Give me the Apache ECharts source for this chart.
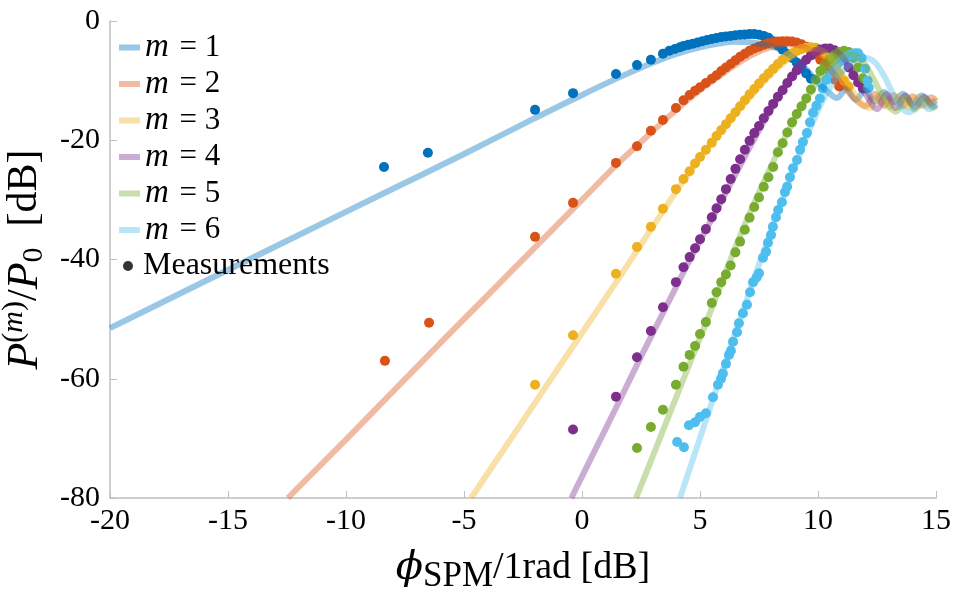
<!DOCTYPE html>
<html><head><meta charset="utf-8">
<script src="https://cdn.jsdelivr.net/npm/echarts@6/dist/echarts.min.js"></script>
<style>html,body{margin:0;padding:0;background:#fff}#c{width:957px;height:592px}</style>
</head><body><div id="c"></div><script>
// Axis ranges / ticks
const xRange = [-20, 15], xStep = 5;
const yRange = [-80, 0], yStep = 20;
const orders = [1, 2, 3, 4, 5, 6];

// Theory curves [phi_dB, P_dB]
const line1 = [[-20,-51.5],[-16,-43.7],[-12,-35.9],[-8.4,-28.9],[-5,-22.3],[-2,-16.3],[0,-12.4],[1,-10.5],[2,-8.7],[3,-7.0],[4,-5.5],[5,-4.4],[5.8,-3.8],[6.5,-3.5],[7.2,-3.6],[7.8,-4.0],[8.3,-4.6],[8.8,-5.7],[9.2,-6.9],[9.6,-8.5],[10.0,-10.3],[10.4,-11.8],[10.8,-12.9],[11.2,-11.4],[11.6,-13.2],[12.0,-11.6],[12.4,-13.5],[12.8,-11.9],[13.2,-13.6],[13.6,-12.2],[14.0,-13.9],[14.4,-12.5],[14.8,-13.8],[15,-13.3]];
const line2 = [[-12.46,-80],[-10,-70.2],[-8,-62.1],[-6,-54.0],[-4,-46.0],[-2,-38.0],[0,-30.0],[1.6,-23.6],[2.5,-20.3],[3.4,-17.0],[4.2,-14.2],[5.0,-11.6],[5.8,-9.3],[6.6,-7.1],[7.3,-5.5],[8.0,-4.4],[8.6,-3.9],[9.1,-4.0],[9.6,-4.7],[10.0,-5.8],[10.4,-7.5],[10.8,-9.5],[11.2,-11.5],[11.6,-13.2],[12.0,-14.3],[12.4,-12.2],[12.8,-14.2],[13.2,-12.4],[13.6,-14.3],[14.0,-12.6],[14.4,-14.2],[14.8,-12.8],[15,-13.4]];
const line3 = [[-4.7,-80],[-3,-70.0],[-1,-58.2],[0.5,-49.4],[1.6,-42.9],[2.6,-36.9],[3.5,-31.5],[4.3,-26.8],[5.0,-23.0],[5.8,-19.0],[6.5,-15.6],[7.2,-12.4],[7.8,-9.8],[8.4,-7.5],[8.9,-5.9],[9.4,-4.9],[9.8,-4.6],[10.2,-5.0],[10.6,-6.5],[11.0,-8.8],[11.4,-11.3],[11.8,-13.6],[12.2,-14.6],[12.6,-12.4],[13.0,-14.5],[13.4,-12.6],[13.8,-14.4],[14.2,-12.7],[14.6,-14.3],[15,-12.9]];
const line4 = [[-0.45,-80],[0.5,-72.4],[1.5,-64.4],[2.5,-56.3],[3.3,-50.0],[4.0,-44.5],[4.6,-39.8],[5.2,-35.4],[5.8,-31.0],[6.4,-26.5],[7.0,-22.0],[7.6,-17.6],[8.2,-13.6],[8.7,-10.4],[9.2,-7.7],[9.7,-5.8],[10.1,-4.8],[10.5,-4.6],[10.9,-5.4],[11.3,-7.5],[11.7,-10.2],[12.1,-12.8],[12.5,-14.8],[12.9,-12.3],[13.3,-14.6],[13.7,-12.5],[14.1,-14.5],[14.5,-12.7],[14.9,-14.3],[15,-14.0]];
const line5 = [[2.29,-80],[3.0,-73.0],[3.8,-65.0],[4.6,-57.1],[5.3,-50.2],[6.0,-43.0],[6.7,-36.0],[7.4,-29.6],[8.1,-23.6],[8.8,-18.0],[9.5,-13.2],[10.0,-10.0],[10.5,-7.6],[11.0,-6.0],[11.4,-5.6],[11.8,-6.3],[12.2,-8.6],[12.6,-11.6],[13.0,-14.2],[13.3,-15.2],[13.7,-12.8],[14.1,-14.9],[14.5,-13.0],[14.9,-14.6],[15,-14.3]];
const line6 = [[4.15,-80],[4.8,-72.3],[5.5,-64.0],[6.2,-55.8],[6.9,-47.7],[7.6,-39.7],[8.3,-32.0],[9.0,-24.6],[9.6,-18.6],[10.2,-13.3],[10.7,-10.0],[11.2,-7.8],[11.6,-6.6],[12.0,-6.2],[12.4,-6.9],[12.8,-9.2],[13.2,-12.4],[13.6,-14.8],[13.9,-15.3],[14.3,-13.2],[14.7,-14.8],[15,-13.8]];

// Measurements [phi_dB, P_dB]
const meas1 = [[-8.39,-24.5],[-6.53,-22.1],[-1.99,-14.9],[-0.38,-12.1],[1.44,-8.9],[2.33,-7.4],[2.92,-6.5],[3.43,-5.5],[3.7,-5.0],[3.94,-4.7],[4.15,-4.4],[4.3,-4.2],[4.5,-4.0],[4.7,-3.8],[4.9,-3.6],[5.1,-3.4],[5.3,-3.2],[5.5,-3.0],[5.7,-2.85],[5.9,-2.7],[6.1,-2.6],[6.3,-2.5],[6.5,-2.4],[6.7,-2.3],[6.9,-2.25],[7.1,-2.2],[7.3,-2.2],[7.5,-2.3],[7.7,-2.5],[7.9,-2.8],[8.1,-3.4],[8.3,-4.1],[8.5,-4.8],[8.7,-5.5],[8.9,-6.2],[9.1,-7.0],[9.3,-7.9],[9.5,-8.8],[9.7,-9.7]];
const meas2 = [[-8.35,-57.0],[-6.48,-50.6],[-1.99,-36.2],[-0.38,-30.5],[1.44,-23.8],[2.33,-21.0],[2.92,-18.4],[3.43,-16.6],[3.98,-14.6],[4.30,-13.3],[4.56,-12.4],[4.79,-11.7],[5.0,-11.1],[5.25,-10.4],[5.5,-9.7],[5.7,-9.1],[5.9,-8.4],[6.1,-7.8],[6.3,-7.2],[6.5,-6.6],[6.7,-6.0],[6.9,-5.5],[7.1,-5.0],[7.3,-4.6],[7.5,-4.3],[7.7,-4.0],[7.9,-3.75],[8.1,-3.6],[8.3,-3.45],[8.5,-3.4],[8.7,-3.4],[8.9,-3.45],[9.1,-3.6],[9.3,-3.9],[9.5,-4.3],[9.7,-4.9],[9.9,-5.6],[10.1,-6.5],[10.3,-7.5],[10.5,-8.6],[10.7,-9.8],[10.9,-11.0]];
const meas3 = [[-1.99,-61.0],[-0.38,-52.7],[1.44,-42.4],[2.33,-37.9],[2.92,-34.5],[3.43,-31.5],[3.98,-28.2],[4.30,-26.5],[4.56,-25.2],[4.79,-23.9],[5.0,-22.8],[5.25,-21.6],[5.5,-20.4],[5.7,-19.3],[5.9,-18.3],[6.1,-17.3],[6.3,-16.3],[6.5,-15.3],[6.7,-14.3],[6.9,-13.3],[7.1,-12.3],[7.3,-11.4],[7.5,-10.5],[7.7,-9.6],[7.9,-8.8],[8.1,-8.0],[8.3,-7.2],[8.5,-6.5],[8.7,-5.9],[8.9,-5.4],[9.1,-5.0],[9.3,-4.7],[9.5,-4.5],[9.7,-4.4],[9.9,-4.5],[10.1,-4.9],[10.3,-5.6],[10.5,-6.6],[10.7,-7.7],[10.9,-8.9],[11.1,-10.0],[11.3,-11.0]];
const meas4 = [[-0.38,-68.5],[1.44,-63.0],[2.33,-56.4],[2.92,-52.0],[3.43,-48.0],[3.98,-43.8],[4.30,-41.3],[4.56,-39.6],[4.79,-38.1],[5.0,-36.6],[5.25,-34.9],[5.5,-32.9],[5.7,-31.4],[5.9,-29.9],[6.1,-28.2],[6.3,-26.5],[6.5,-24.8],[6.7,-23.2],[6.9,-21.6],[7.1,-20.1],[7.3,-18.8],[7.5,-17.6],[7.7,-16.3],[7.9,-15.1],[8.1,-13.9],[8.3,-12.7],[8.5,-11.6],[8.7,-10.4],[8.9,-9.3],[9.1,-8.3],[9.3,-7.3],[9.5,-6.5],[9.7,-5.8],[9.9,-5.2],[10.1,-4.8],[10.3,-4.6],[10.5,-4.6],[10.7,-4.9],[10.9,-5.6],[11.1,-6.6],[11.3,-7.8],[11.5,-9.1],[11.7,-10.3],[11.9,-11.3]];
const meas5 = [[2.33,-71.6],[2.92,-68.1],[3.43,-65.2],[3.98,-61.0],[4.30,-58.0],[4.56,-56.0],[4.79,-54.5],[5.0,-52.5],[5.25,-50.5],[5.5,-47.3],[5.7,-45.5],[5.9,-43.8],[6.1,-42.5],[6.3,-41.0],[6.5,-38.8],[6.7,-37.0],[6.9,-35.0],[7.1,-33.0],[7.3,-31.2],[7.5,-29.6],[7.7,-27.8],[7.9,-26.2],[8.1,-24.5],[8.3,-22.0],[8.5,-20.5],[8.7,-18.7],[8.9,-17.0],[9.1,-15.6],[9.3,-14.3],[9.5,-13.0],[9.7,-11.5],[9.9,-9.8],[10.1,-8.4],[10.3,-7.3],[10.5,-6.4],[10.7,-5.7],[10.9,-5.2],[11.1,-5.0],[11.3,-5.2],[11.5,-6.2],[11.7,-7.8],[11.9,-9.6],[12.1,-11.2]];
const meas6 = [[4.03,-70.6],[4.32,-71.5],[4.53,-67.8],[4.79,-67.3],[5.0,-66.4],[5.25,-65.8],[5.55,-63.1],[5.76,-61.0],[5.89,-60.0],[5.97,-59.1],[6.10,-57.5],[6.23,-56.0],[6.31,-55.3],[6.40,-53.8],[6.57,-52.2],[6.65,-50.7],[6.82,-49.0],[6.99,-47.6],[7.12,-45.5],[7.25,-43.8],[7.40,-43.0],[7.50,-42.3],[7.67,-39.7],[7.80,-38.7],[7.88,-37.2],[8.01,-35.9],[8.09,-34.5],[8.22,-32.9],[8.31,-31.7],[8.47,-30.4],[8.60,-28.7],[8.69,-27.8],[8.81,-26.2],[8.94,-24.7],[9.11,-23.3],[9.24,-21.6],[9.36,-20.3],[9.53,-18.8],[9.66,-17.0],[9.79,-15.4],[9.93,-14.2],[10.08,-13.0],[10.2,-11.3],[10.35,-9.9],[10.5,-8.9],[10.65,-8.1],[10.8,-7.4],[10.95,-6.8],[11.1,-6.3],[11.25,-5.9],[11.4,-5.6],[11.55,-5.4],[11.7,-5.4],[11.85,-6.2],[12.0,-8.0],[12.1,-10.0],[12.15,-11.2]];

const lines = [line1, line2, line3, line4, line5, line6];
const meas = [meas1, meas2, meas3, meas4, meas5, meas6];
const colors = ['#0072BD','#D95319','#EDB120','#7E2F8E','#77AC30','#4DBEEE'];
const lineColors = ['rgba(0,114,189,0.4)','rgba(217,83,25,0.4)','rgba(237,177,32,0.4)','rgba(126,47,142,0.4)','rgba(119,172,48,0.4)','rgba(77,190,238,0.4)'];

const SERIF = '"Liberation Serif","DejaVu Serif",serif';
const series = [];
orders.forEach((m, i) => {
  series.push({
    name: 'm = ' + m, type: 'line', data: lines[i], smooth: 0.35,
    showSymbol: false, symbol: 'none', clip: true,
    lineStyle: { width: 6, color: lineColors[i], cap: 'butt' },
    itemStyle: { color: lineColors[i] }
  });
  series.push({
    name: 'meas' + m, type: 'scatter', data: meas[i], symbolSize: 10,
    itemStyle: { color: colors[i], opacity: 1 }
  });
});
series.push({ name: 'Measurements', type: 'scatter', data: [], itemStyle: { color: '#000' } });

const chart = echarts.init(document.getElementById('c'), null, { renderer: 'canvas' });
const axisGray = '#bfbfbf';
chart.setOption({
  animation: false,
  backgroundColor: '#fff',
  grid: { left: 110, right: 21, top: 21, bottom: 94, containLabel: false, outerBoundsMode: 'none' },
  legend: [{
    data: orders.map(m => 'm = ' + m),
    orient: 'vertical', left: 119, top: 31, padding: 0, itemGap: 3.5,
    itemWidth: 21, itemHeight: 6, icon: 'rect', selectedMode: false,
    formatter: name => '{i|m}{t| = ' + name.slice(4) + '}',
    textStyle: { lineHeight: 30, rich: {
      i: { fontFamily: SERIF, fontStyle: 'italic', fontSize: 33, color: '#000', lineHeight: 30 },
      t: { fontFamily: SERIF, fontSize: 31, color: '#000', lineHeight: 30, padding: [0, 0, 0, 3] }
    } }
  }, {
    data: ['Measurements'],
    orient: 'vertical', left: 123, top: 250, padding: 0,
    itemWidth: 10, itemHeight: 10, icon: 'circle', selectedMode: false,
    formatter: name => '{a|' + name + '}',
    textStyle: { rich: {
      a: { fontFamily: SERIF, fontSize: 32, color: '#000', lineHeight: 30, padding: [0, 0, 0, 5] }
    } }
  }],
  xAxis: {
    type: 'value', min: xRange[0], max: xRange[1], interval: xStep,
    splitLine: { show: false },
    axisLine: { show: true, onZero: false, lineStyle: { color: axisGray, width: 1.5 } },
    axisTick: { show: true, inside: true, length: 7, lineStyle: { color: axisGray, width: 1 } },
    axisLabel: { fontFamily: SERIF, fontSize: 30, color: '#000', margin: 8 },
    name: '{phi|ϕ}{sub|SPM}{t|/1rad [dB]}',
    nameLocation: 'middle', nameGap: 45,
    nameTextStyle: { rich: {
      phi: { fontFamily: '"DejaVu Serif",serif', fontStyle: 'italic', fontSize: 40, color: '#000' },
      sub: { fontFamily: SERIF, fontSize: 35, color: '#000', padding: [16, 0, 0, 0] },
      t: { fontFamily: SERIF, fontSize: 38, color: '#000' }
    } }
  },
  yAxis: {
    type: 'value', min: yRange[0], max: yRange[1], interval: yStep,
    splitLine: { show: false },
    axisLine: { show: true, onZero: false, lineStyle: { color: axisGray, width: 1.5 } },
    axisTick: { show: true, inside: true, length: 7, lineStyle: { color: axisGray, width: 1 } },
    axisLabel: { fontFamily: SERIF, fontSize: 30, color: '#000', margin: 10 },
    name: '{P|P}{sup|(}{supi|m}{sup|)}{t|/}{P|P}{sub|0}{t|  [dB]}',
    nameLocation: 'middle', nameGap: 52, nameRotate: 90,
    nameTextStyle: { rich: {
      P: { fontFamily: SERIF, fontStyle: 'italic', fontSize: 44, color: '#000' },
      sup: { fontFamily: SERIF, fontSize: 30, color: '#000', padding: [0, 0, 22, 0] },
      supi: { fontFamily: SERIF, fontStyle: 'italic', fontSize: 30, color: '#000', padding: [0, 0, 22, 0] },
      sub: { fontFamily: SERIF, fontSize: 30, color: '#000', padding: [18, 0, 0, 0] },
      t: { fontFamily: SERIF, fontSize: 42, color: '#000' }
    } }
  },
  series: series
});
</script></body></html>
